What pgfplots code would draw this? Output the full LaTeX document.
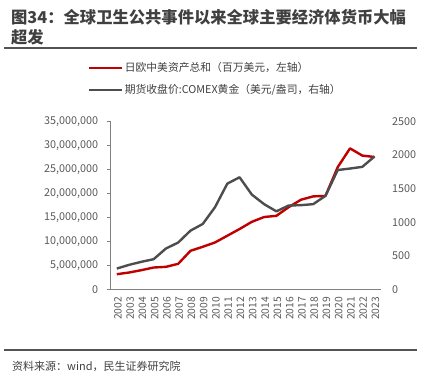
\documentclass[border=0pt]{standalone}
\usepackage{fontspec}
\setmainfont{Noto Sans CJK SC}
\usepackage{pgfplots}
\pgfplotsset{compat=1.18}
\definecolor{cred}{HTML}{C00000}
\definecolor{cgray}{HTML}{4D4D4D}
\definecolor{ctick}{HTML}{595959}
\definecolor{caxis}{HTML}{808080}
\definecolor{ctitle}{HTML}{404040}
\begin{document}
\begin{tikzpicture}
\path[use as bounding box] (0pt,0pt) rectangle (434pt,381pt);
\node[anchor=north west, inner sep=0pt, align=left, font=\fontsize{16.3}{20}\selectfont\bfseries, text=ctitle] at (11pt,372pt) {图34：全球卫生公共事件以来全球主要经济体货币大幅\\超发};
\draw[ctitle!90, line width=1.5pt] (4pt,333pt) -- (417pt,333pt);
\draw[ctitle!90, line width=1.2pt] (4pt,31pt) -- (417pt,31pt);
\node[anchor=west, inner sep=0pt, font=\fontsize{11}{13}\selectfont, text=ctitle] at (12pt,15pt) {资料来源：wind，民生证券研究院};

\begin{axis}[
  at={(110.7pt,91.5pt)}, anchor=south west,
  scale only axis, width=270pt, height=168pt,
  xmin=2001.5, xmax=2023.5,
  ymin=0, ymax=35000000,
  axis x line*=bottom, axis y line*=left,
  axis line style={caxis, line width=1.1pt},
  xtick={2002,...,2023},
  xticklabels={2002,2003,2004,2005,2006,2007,2008,2009,2010,2011,2012,2013,2014,2015,2016,2017,2018,2019,2020,2021,2022,2023},
  major x tick style={draw=none},
  extra x ticks={2001.5,2002.5,...,2023.5},
  extra x tick labels={},
  extra x tick style={tick style={caxis, line width=0.9pt}, major tick length=4pt, tick align=outside},
  ytick={0,5000000,10000000,15000000,20000000,25000000,30000000,35000000},
  scaled y ticks=false,
  /pgf/number format/fixed,
  /pgf/number format/1000 sep={,},
  /pgf/number format/assume math mode=true,
  y tick style={caxis, line width=0.9pt},
  major tick length=4pt, tick align=outside,
  tick label style={text=ctick, font=\fontsize{10.8}{12}\selectfont},
  xticklabel style={rotate=90, anchor=east, font=\fontsize{10.3}{12}\selectfont, yshift=-1pt},
  yticklabel style={xshift=-5pt},
  legend style={draw=none, fill=none, at={(axis description cs:-0.085,1.36)}, anchor=north west,
     font=\fontsize{10.8}{13}\selectfont, text=ctitle, row sep=8pt, inner sep=0pt,
     nodes={inner sep=1.5pt}},
  legend cell align=left,
  legend image code/.code={\draw[#1] (0pt,0pt) -- (33pt,0pt);},
  clip=false,
]
\addplot[cred, line width=2.4pt, line join=round] coordinates {
(2002,3190000) (2003,3540000) (2004,4030000) (2005,4580000) (2006,4720000)
(2007,5350000) (2008,8060000) (2009,8900000) (2010,9800000) (2011,11200000)
(2012,12600000) (2013,14100000) (2014,15100000) (2015,15350000) (2016,17150000)
(2017,18700000) (2018,19400000) (2019,19500000) (2020,25500000) (2021,29400000)
(2022,27900000) (2023,27600000)};
\addlegendentry{日欧中美资产总和（百万美元，左轴）}
\addlegendimage{cgray, line width=2.4pt}
\addlegendentry{期货收盘价:COMEX黄金（美元/盎司，右轴）}
\end{axis}

\begin{axis}[
  at={(110.7pt,91.5pt)}, anchor=south west,
  scale only axis, width=270pt, height=168pt,
  xmin=2001.5, xmax=2023.5,
  ymin=0, ymax=2500,
  hide x axis,
  axis y line*=right,
  y axis line style={draw=none},
  ytick={0,500,1000,1500,2000,2500},
  ytick style={draw=none},
  /pgf/number format/1000 sep={},
  /pgf/number format/assume math mode=true,
  yticklabel style={text=ctick, font=\fontsize{10.8}{12}\selectfont, xshift=8pt},
  clip=false,
]
\addplot[cgray, line width=2.4pt, line join=round] coordinates {
(2002,312) (2003,367) (2004,412) (2005,451) (2006,610) (2007,699)
(2008,876) (2009,975) (2010,1225) (2011,1575) (2012,1670) (2013,1412)
(2014,1270) (2015,1163) (2016,1250) (2017,1255) (2018,1270) (2019,1394)
(2020,1778) (2021,1800) (2022,1825) (2023,1980)};
\end{axis}
\end{tikzpicture}
\end{document}
